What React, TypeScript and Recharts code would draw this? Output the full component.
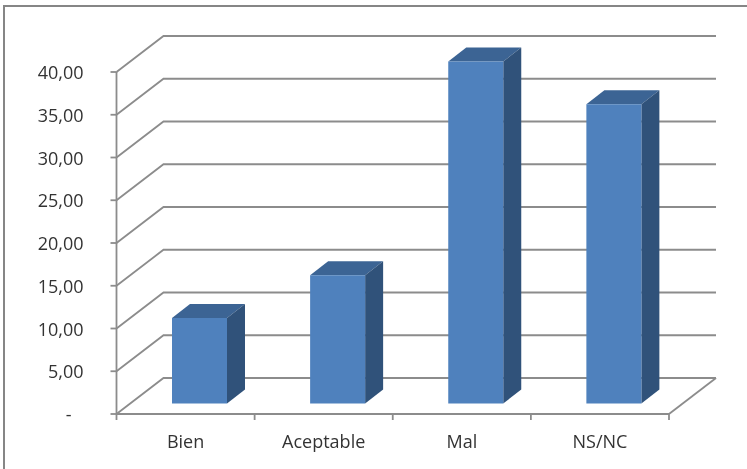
import React from 'react';
import { BarChart, Bar, XAxis, YAxis, CartesianGrid } from 'recharts';

const categories = ['Bien', 'Aceptable', 'Mal', 'NS/NC'];
const values = [10, 15, 40, 35];
const yTicks = [0, 5, 10, 15, 20, 25, 30, 35, 40];

const chartData = categories.map((name, i) => ({ name, value: values[i] }));

// fake 3D: how far the back wall / bar sit from the front plane
const WALL_DX = 47;
const WALL_DY = 36;
const BAR_DX = 13.5;
const BAR_DY = 10.5;
const DEPTH_DX = 18;
const DEPTH_DY = 14;
const GRAY = '#8c8c8c';
const LINE_W = 1.8;
const FONT = '"Open Sans", sans-serif';

const formatTick = (v: number) => (v === 0 ? '-' : v.toFixed(2).replace('.', ','));

const GridLine = (props: any) => {
  const { x1, x2, y1, y2 } = props;
  return (
    <g>
      <polyline
        points={`${x1},${y1} ${x1 + WALL_DX},${y1 - WALL_DY} ${x2 + WALL_DX},${y2 - WALL_DY}`}
        fill="none"
        stroke={GRAY}
        strokeWidth={LINE_W}
      />
      {/* right edge of the floor */}
      {y1 === 414 && (
        <line x1={x2} y1={y1} x2={x2 + WALL_DX} y2={y1 - WALL_DY} stroke={GRAY} strokeWidth={LINE_W} />
      )}
    </g>
  );
};

const Bar3D = (props: any) => {
  const { x, y, width, height } = props;
  const l = x + BAR_DX;
  const r = l + width;
  const t = y - BAR_DY;
  const b = t + height;
  return (
    <g>
      <polygon
        points={`${l},${t} ${r},${t} ${r + DEPTH_DX},${t - DEPTH_DY} ${l + DEPTH_DX},${t - DEPTH_DY}`}
        fill="#3c6494"
      />
      <polygon
        points={`${r},${t} ${r + DEPTH_DX},${t - DEPTH_DY} ${r + DEPTH_DX},${b - DEPTH_DY} ${r},${b}`}
        fill="#30527a"
      />
      <rect x={l} y={t} width={width} height={height} fill="#4f81bd" />
    </g>
  );
};

const CategoryTick = (props: any) => {
  const { x, y, payload, width } = props;
  const half = width / categories.length / 2;
  return (
    <g>
      <line x1={x - half} y1={414} x2={x - half} y2={420} stroke={GRAY} strokeWidth={LINE_W} />
      {payload.index === categories.length - 1 && (
        <line x1={x + half} y1={414} x2={x + half} y2={420} stroke={GRAY} strokeWidth={LINE_W} />
      )}
      <text x={x} y={y + 26} textAnchor="middle" fontSize={18} fontFamily={FONT} fill="#333">
        {payload.value}
      </text>
    </g>
  );
};

const ValueTick = (props: any) => {
  const { x, y, payload } = props;
  // the zero label is a dash that sits further left, like an accounting format
  const shift = payload.value === 0 ? 12 : 0;
  return (
    <text x={x - shift} y={y + 7} textAnchor="end" fontSize={18} fontFamily={FONT} fill="#333">
      {formatTick(payload.value)}
    </text>
  );
};

export default function App() {
  return (
    <div
      style={{
        position: 'absolute',
        left: 0,
        top: 0,
        width: 747,
        height: 469,
        background: '#fff',
        overflow: 'hidden',
        filter: 'blur(0.4px)',
      }}
    >
      <div
        style={{
          position: 'absolute',
          left: 3,
          top: 5,
          width: 760,
          height: 480,
          borderLeft: '2px solid #868686',
          borderTop: '2px solid #868686',
        }}
      />
      <div style={{ position: 'absolute', left: 0, top: 0 }}>
        <BarChart
          width={747}
          height={469}
          data={chartData}
          margin={{ top: 72, right: 78, bottom: 0, left: 0 }}
          barSize={55}
        >
          <CartesianGrid vertical={false} horizontal={(p: any) => <GridLine key={p.key} {...p} />} />
          <XAxis
            dataKey="name"
            height={55}
            interval={0}
            tickLine={false}
            axisLine={{ stroke: GRAY, strokeWidth: LINE_W }}
            tick={<CategoryTick width={552.5} />}
          />
          <YAxis
            width={116.5}
            domain={[0, 40]}
            ticks={yTicks}
            interval={0}
            tickSize={6}
            tickMargin={27}
            axisLine={{ stroke: GRAY, strokeWidth: LINE_W }}
            tickLine={{ stroke: GRAY, strokeWidth: LINE_W }}
            tick={<ValueTick />}
          />
          <Bar dataKey="value" isAnimationActive={false} shape={<Bar3D />} />
        </BarChart>
      </div>
    </div>
  );
}
